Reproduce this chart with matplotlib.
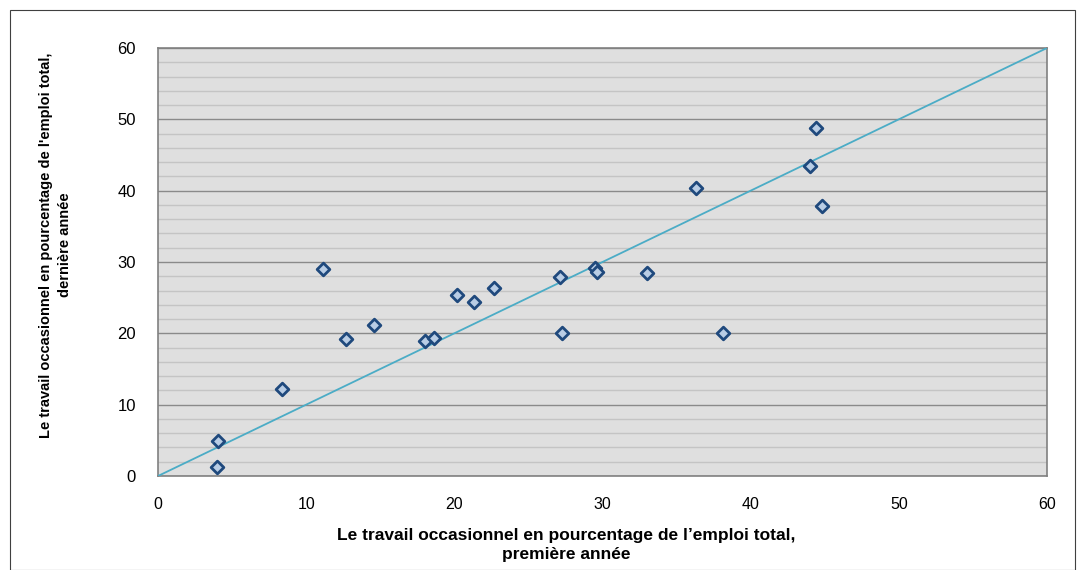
import matplotlib
matplotlib.use("Agg")
import matplotlib.pyplot as plt
from matplotlib.patches import Rectangle
from matplotlib.ticker import MultipleLocator

# premiere annee (x) vs derniere annee (y), % of total employment
first_year = [3.98, 4.05, 8.37, 11.13, 12.7, 14.6, 18.0, 18.6, 20.2, 21.3, 22.7,
              27.1, 27.3, 29.5, 29.6, 33.0, 36.3, 38.1, 44.0, 44.4, 44.8]
last_year = [1.26, 4.9, 12.2, 29.0, 19.2, 21.2, 18.9, 19.3, 25.4, 24.4, 26.4,
             27.9, 20.0, 29.2, 28.6, 28.5, 40.4, 20.0, 43.5, 48.8, 37.9]
diag = [0, 60]

x_title = "Le travail occasionnel en pourcentage de l\u2019emploi total,\npremière année"
y_title = "Le travail occasionnel en pourcentage de l'emploi total,\ndernière année"

plt.rcParams['font.family'] = ['Liberation Sans', 'DejaVu Sans']

fig = plt.figure(figsize=(10.84, 5.70), dpi=100)
fig.patches.append(Rectangle((10 / 1084, 0), 1065 / 1084, 560 / 570, transform=fig.transFigure,
                             fill=False, edgecolor='#404040', linewidth=0.8))
ax = fig.add_axes([158 / 1084, 94 / 570, 889 / 1084, 428 / 570])
ax.set_facecolor('#dfdfdf')

ax.plot(diag, diag, color='#4bacc6', linewidth=1.3, zorder=3)
ax.scatter(first_year, last_year, marker='D', s=42, facecolor='#b9cde5',
           edgecolor='#1f497d', linewidth=2, zorder=4, clip_on=False)

ax.set_xlim(0, 60)
ax.set_ylim(0, 60)
ax.xaxis.set_major_locator(MultipleLocator(10))
ax.yaxis.set_major_locator(MultipleLocator(10))
ax.yaxis.set_minor_locator(MultipleLocator(2))
ax.grid(axis='y', which='major', color='#8a8a8a', linewidth=1.0, zorder=1)
ax.grid(axis='y', which='minor', color='#c4c4c4', linewidth=1.0, zorder=1)
ax.set_axisbelow(True)
ax.tick_params(which='both', length=0, colors='#000000')
ax.tick_params(axis='x', pad=15, labelsize=11.5)
ax.tick_params(axis='y', pad=16, labelsize=12)
for s in ax.spines.values():
    s.set_color('#808080')
    s.set_linewidth(1.2)

ax.set_xlabel(x_title, fontsize=12.5, fontweight='bold', linespacing=1.3)
ax.xaxis.set_label_coords(0.459, -0.122)
ax.set_ylabel(y_title, fontsize=10.5, fontweight='bold', linespacing=1.4)
ax.yaxis.set_label_coords(-0.097, 0.54)

fig.savefig('out.png', dpi=100)
